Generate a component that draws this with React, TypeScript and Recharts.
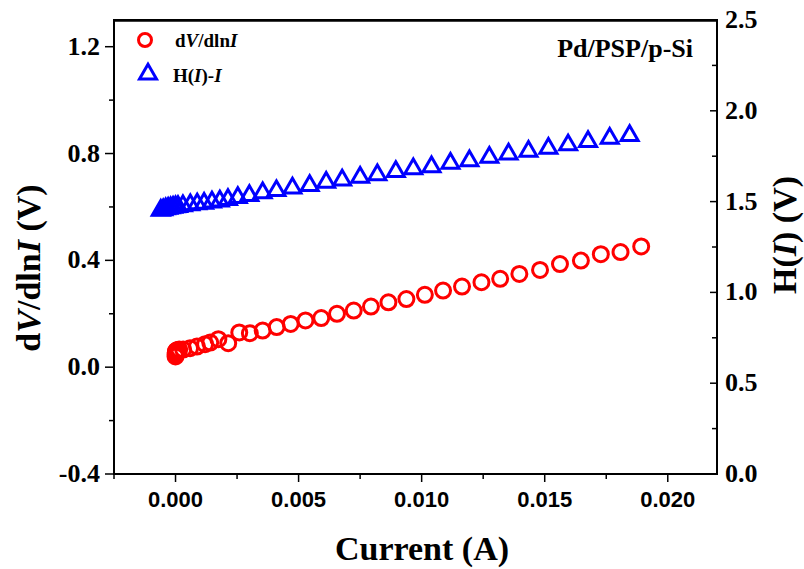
import React from "react";
import { ScatterChart, Scatter, XAxis, YAxis, Legend, Label, ReferenceLine, ReferenceArea } from "recharts";

// dV/dlnI vs I (red circles)
const currentRed = [
  0.0, 0.0, 0.00001, 0.00002, 0.00004, 0.00008, 0.00015, 0.00031, 0.00059, 0.00087,
  0.0012, 0.00141, 0.00174, 0.00214, 0.00259, 0.00302, 0.00354, 0.00411, 0.00468, 0.00528,
  0.00592, 0.00656, 0.00724, 0.00794, 0.00865, 0.00938, 0.01013, 0.01087, 0.01164, 0.01243,
  0.01319, 0.01397, 0.01481, 0.01562, 0.01647, 0.01728, 0.01808, 0.01892,
];
const dVdlnI = [
  0.04, 0.048, 0.055, 0.06, 0.062, 0.064, 0.066, 0.066, 0.071, 0.077,
  0.086, 0.092, 0.105, 0.09, 0.13, 0.127, 0.137, 0.15, 0.162, 0.175,
  0.184, 0.2, 0.212, 0.227, 0.243, 0.255, 0.271, 0.287, 0.302, 0.318,
  0.331, 0.349, 0.364, 0.386, 0.399, 0.423, 0.431, 0.452,
];

// H(I) vs I (blue triangles)
const currentBlue = [
  -0.0006, -0.0005, -0.0004, -0.0003, -0.0002, -0.0001, 0.0, 0.0001, 0.0003, 0.0006, 0.00088,
  0.00116, 0.00148, 0.0018, 0.00213, 0.00253, 0.003, 0.00354, 0.0041, 0.00475, 0.00545,
  0.00612, 0.00677, 0.0075, 0.0082, 0.00895, 0.00966, 0.0104, 0.01117, 0.01194, 0.01275,
  0.01353, 0.01434, 0.01515, 0.01595, 0.01676, 0.01764, 0.01845,
];
const hValues = [
  1.452, 1.455, 1.46, 1.463, 1.466, 1.469, 1.471, 1.473, 1.477, 1.482, 1.487,
  1.491, 1.497, 1.503, 1.511, 1.522, 1.533, 1.548, 1.56, 1.574, 1.588,
  1.606, 1.619, 1.634, 1.648, 1.665, 1.68, 1.692, 1.711, 1.725, 1.744,
  1.762, 1.777, 1.793, 1.812, 1.83, 1.849, 1.863,
];

const xDomain = [-0.0025, 0.022];
const leftDomain = [-0.4, 1.3];
const xTicks = [-0.0025, 0, 0.0025, 0.005, 0.0075, 0.01, 0.0125, 0.015, 0.0175, 0.02];
const leftTicks = [-0.4, -0.2, 0, 0.2, 0.4, 0.6, 0.8, 1.0, 1.2];
const rightTicks = [0, 0.25, 0.5, 0.75, 1.0, 1.25, 1.5, 1.75, 2.0, 2.25, 2.5];

const redData = currentRed.map((x, i) => ({ x, y: dVdlnI[i] }));
const blueData = currentBlue.map((x, i) => ({ x, y: hValues[i] }));

const SERIF = "'Liberation Serif', 'Times New Roman', serif";
const SANS = "'Liberation Sans', Arial, sans-serif";
const RED = "#ff0000";
const BLUE = "#0000ff";

const isMajor = (v: number, step: number) => Math.abs(v / step - Math.round(v / step)) < 1e-6;

const triPath = (cx: number, cy: number, s: number) => {
  const h = (s * Math.sqrt(3)) / 2;
  return `M${cx},${cy - (2 * h) / 3}L${cx + s / 2},${cy + h / 3}L${cx - s / 2},${cy + h / 3}Z`;
};

const Circle = (p: any) => (
  <circle cx={p.cx} cy={p.cy} r={7.5} fill="none" stroke={RED} strokeWidth={3} />
);
const Triangle = (p: any) => (
  <path d={triPath(p.cx, p.cy, 17)} fill="none" stroke={BLUE} strokeWidth={3} />
);

const LeftTick = ({ x, y, payload }: any) => {
  const major = isMajor(payload.value, 0.4);
  return (
    <g>
      <line x1={x} x2={x - (major ? 9 : 5)} y1={y} y2={y} stroke="#000" strokeWidth={1.5} />
      {major && (
        <text x={x - 14} y={y + 8} textAnchor="end" fontFamily={SERIF} fontWeight="bold" fontSize={26} fill="#000">
          {payload.value.toFixed(1)}
        </text>
      )}
    </g>
  );
};

const RightTick = ({ x, y, payload }: any) => {
  const major = isMajor(payload.value, 0.5);
  return (
    <g>
      <line x1={x} x2={x - (major ? 7 : 5)} y1={y} y2={y} stroke="#000" strokeWidth={1.5} />
      {major && (
        <text x={x + 8} y={y + 8} textAnchor="start" fontFamily={SERIF} fontWeight="bold" fontSize={26} fill="#000">
          {payload.value.toFixed(1)}
        </text>
      )}
    </g>
  );
};

const BottomTick = ({ x, y, payload }: any) => {
  const major = isMajor(payload.value, 0.005);
  return (
    <g>
      <line x1={x} x2={x} y1={y} y2={y + (major ? 8 : 5)} stroke="#000" strokeWidth={1.5} />
      {major && (
        <text x={x} y={y + 33} textAnchor="middle" fontFamily={SANS} fontWeight="bold" fontSize={22} fill="#000">
          {payload.value.toFixed(3)}
        </text>
      )}
    </g>
  );
};

const LegendBox = () => (
  <svg width={200} height={70} style={{ display: "block" }}>
    <circle cx={15} cy={18} r={6.5} fill="none" stroke={RED} strokeWidth={3} />
    <text x={45} y={25} fontFamily={SERIF} fontWeight="bold" fontSize={19}>
      d<tspan fontStyle="italic">V</tspan>/dln<tspan fontStyle="italic">I</tspan>
    </text>
    <path d={triPath(18, 52, 17)} fill="none" stroke={BLUE} strokeWidth={3} />
    <text x={43} y={60} fontFamily={SERIF} fontWeight="bold" fontSize={19}>
      H(<tspan fontStyle="italic">I</tspan>)-<tspan fontStyle="italic">I</tspan>
    </text>
  </svg>
);

export default function App() {
  return (
    <div style={{ position: "absolute", left: 0, top: 0, width: 804, height: 569, background: "#fff" }}>
      <ScatterChart width={804} height={569} margin={{ top: 20, right: 0, bottom: 0, left: 0 }}>
        <XAxis
          xAxisId="bottom"
          type="number"
          dataKey="x"
          domain={xDomain}
          ticks={xTicks}
          interval={0}
          height={95}
          tickSize={0}
          tickMargin={0}
          tick={<BottomTick />}
          axisLine={{ stroke: "#000", strokeWidth: 1.8 }}
          allowDataOverflow
        >
          <Label
            content={() => (
              <text x={422} y={560} textAnchor="middle" fontFamily={SERIF} fontWeight="bold" fontSize={34}>
                Current (A)
              </text>
            )}
          />
        </XAxis>
        <YAxis
          yAxisId="left"
          type="number"
          dataKey="y"
          domain={leftDomain}
          ticks={leftTicks}
          interval={0}
          width={114}
          tickSize={0}
          tickMargin={0}
          tick={<LeftTick />}
          axisLine={{ stroke: "#000", strokeWidth: 1.8 }}
          allowDataOverflow
        >
          <Label
            content={() => (
              <text
                x={40}
                y={268}
                transform="rotate(-90 40 268)"
                textAnchor="middle"
                fontFamily={SERIF}
                fontWeight="bold"
                fontSize={34}
              >
                d<tspan fontStyle="italic">V</tspan>/dln<tspan fontStyle="italic">I</tspan> (V)
              </text>
            )}
          />
        </YAxis>
        <YAxis
          yAxisId="right"
          orientation="right"
          type="number"
          dataKey="y"
          domain={[0, 2.5]}
          ticks={rightTicks}
          interval={0}
          width={87}
          tickSize={0}
          tickMargin={0}
          tick={<RightTick />}
          axisLine={{ stroke: "#000", strokeWidth: 1.8 }}
          allowDataOverflow
        >
          <Label
            content={() => (
              <text
                x={796}
                y={235}
                transform="rotate(-90 796 235)"
                textAnchor="middle"
                fontFamily={SERIF}
                fontWeight="bold"
                fontSize={34}
              >
                H(<tspan fontStyle="italic">I</tspan>) (V)
              </text>
            )}
          />
        </YAxis>
        <ReferenceArea
          x1={xDomain[0]}
          x2={xDomain[1]}
          y1={leftDomain[0]}
          y2={leftDomain[1]}
          xAxisId="bottom"
          yAxisId="left"
          fill="none"
          fillOpacity={0}
          stroke="#000"
          strokeWidth={2}
          strokeOpacity={1}
          ifOverflow="visible"
        />
        <ReferenceLine
          y={1.297}
          xAxisId="bottom"
          yAxisId="left"
          stroke="#000"
          strokeWidth={2}
          ifOverflow="visible"
          label={{
            value: "Pd/PSP/p-Si",
            position: "insideBottomRight",
            offset: 0,
            dx: -24,
            dy: 36,
            fill: "#000",
            fontFamily: SERIF,
            fontWeight: "bold",
            fontSize: 26,
          }}
        />
        <Legend
          layout="vertical"
          align="center"
          verticalAlign="middle"
          content={<LegendBox />}
          wrapperStyle={{ top: 22, left: 130, width: 200, height: 70 }}
        />
        <Scatter
          name="dV/dlnI"
          data={redData}
          dataKey="y"
          xAxisId="bottom"
          yAxisId="left"
          shape={Circle}
          isAnimationActive={false}
        />
        <Scatter
          name="H(I)-I"
          data={blueData}
          dataKey="y"
          xAxisId="bottom"
          yAxisId="right"
          shape={Triangle}
          isAnimationActive={false}
        />
      </ScatterChart>
    </div>
  );
}
